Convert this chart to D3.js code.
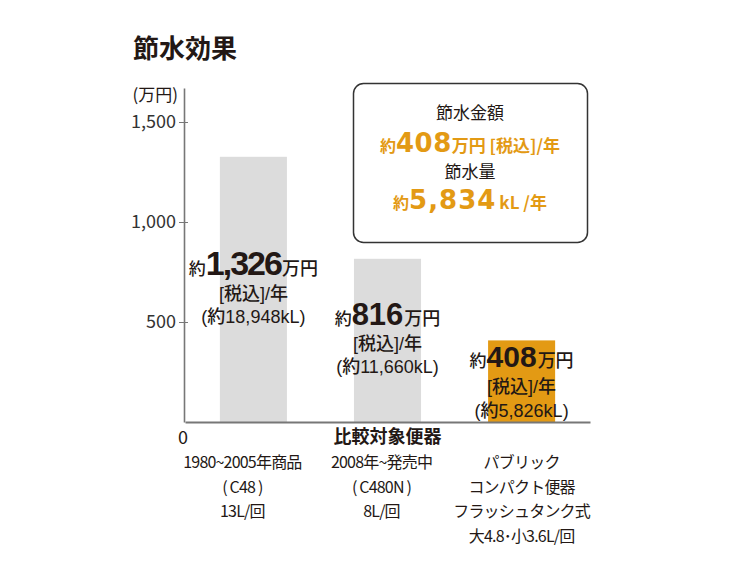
<!DOCTYPE html>
<html>
<head>
<meta charset="utf-8">
<script src="https://cdn.jsdelivr.net/npm/d3@7"></script>
<style>
  html, body { margin: 0; padding: 0; background: #fff; }
  svg { display: block; font-family: "Noto Sans CJK JP", "Noto Sans", sans-serif; }
</style>
</head>
<body>
<div id="chart"></div>
<script>
// chart values (万円 / 年)
const categories = ["c48", "c480n", "public"];
const costValues = [1326, 816, 408];
const costLabels = ["1,326", "816", "408"];
const volumeLabels = ["18,948", "11,660", "5,826"];
const categoryLines = [
    ["1980~2005年商品", "( C48 )", "13L/回"],
    ["2008年~発売中", "( C480N )", "8L/回"],
    ["パブリック", "コンパクト便器", "フラッシュタンク式", "大4.8･小3.6L/回"]
];
const yTicks = [500, 1000, 1500];
const savingCost = "408";
const savingVolume = "5,834";

// layout
const width = 750, height = 563;
const ink = "#231815";
const orange = "#e39a14";
const barColors = ["#dcdcdc", "#dcdcdc", orange];
const labelBaseline = [275, 325, 367];
const labelGap = [[25, 48], [25, 48], [26, 50]];
const digitSize = [34, 31, 30];
const digitSpacing = [-2, 0, 0];
const categoryShift = [-11, -6, 0];
const digitFont = "\"Liberation Sans\", sans-serif";
const lineFont = "\"Liberation Sans\", \"Noto Sans CJK JP\", sans-serif";

const svg = d3.select("#chart").append("svg")
    .attr("width", width)
    .attr("height", height);

const x = d3.scaleBand()
    .domain(categories)
    .range([185, 590])
    .paddingInner(0.5)
    .paddingOuter(0.26);

const y = d3.scaleLinear()
    .domain([0, 1670])
    .range([422, 88]);

// title
svg.append("text")
    .attr("x", 133)
    .attr("y", 58)
    .attr("font-size", 26)
    .attr("font-weight", 700)
    .attr("fill", ink)
    .text("節水効果");

// unit
svg.append("text")
    .attr("x", 178)
    .attr("y", 101)
    .attr("text-anchor", "end")
    .attr("font-size", 17)
    .attr("fill", ink)
    .text("(万円)");

// bars
svg.append("g")
    .selectAll("rect")
    .data(costValues)
    .join("rect")
    .attr("x", (d, i) => x(categories[i]))
    .attr("y", d => y(d))
    .attr("width", x.bandwidth())
    .attr("height", d => y(0) - y(d))
    .attr("fill", (d, i) => barColors[i]);

// y axis
const yAxis = svg.append("g")
    .attr("transform", `translate(${x.range()[0] - 1},0)`)
    .call(d3.axisLeft(y).tickValues(yTicks).tickSize(5).tickPadding(3).tickSizeOuter(0)
        .tickFormat(d3.format(",")));
yAxis.select(".domain").attr("stroke", "#777").attr("stroke-width", 1.6);
yAxis.selectAll(".tick line").attr("x1", 4).attr("x2", -5).attr("stroke", "#777");
yAxis.selectAll(".tick text")
    .attr("font-size", 18)
    .attr("font-family", "\"Noto Sans CJK JP\", sans-serif")
    .attr("fill", "#333");

// x axis baseline
const xAxis = svg.append("g")
    .attr("transform", `translate(0,${y(0)})`)
    .call(d3.axisBottom(x).tickSize(0).tickFormat(""));
xAxis.select(".domain").attr("stroke", "#777").attr("stroke-width", 2);

svg.append("text")
    .attr("x", x.range()[0] - 2)
    .attr("y", y(0) + 22)
    .attr("text-anchor", "middle")
    .attr("font-size", 18)
    .attr("fill", ink)
    .text("0");

// axis title
svg.append("text")
    .attr("x", x(categories[1]) + x.bandwidth() / 2)
    .attr("y", y(0) + 21)
    .attr("text-anchor", "middle")
    .attr("font-size", 18)
    .attr("font-weight", 700)
    .attr("fill", ink)
    .text("比較対象便器");

// category labels
categoryLines.forEach((lines, i) => {
    svg.append("g")
        .selectAll("text")
        .data(lines)
        .join("text")
        .attr("x", x(categories[i]) + x.bandwidth() / 2 + categoryShift[i])
        .attr("y", (d, j) => 468 + j * 24.5)
        .attr("text-anchor", "middle")
        .attr("font-size", 16)
        .attr("letter-spacing", -0.8)
        .attr("fill", ink)
        .text(d => d);
});

// bar value labels
costValues.forEach((v, i) => {
    const cx = x(categories[i]) + x.bandwidth() / 2;
    const base = labelBaseline[i];
    const g = svg.append("g").attr("fill", ink).attr("text-anchor", "middle");

    const t = g.append("text").attr("x", cx).attr("y", base).attr("font-weight", 500)
        .attr("font-family", lineFont);
    t.append("tspan").attr("font-size", 17).text("約");
    t.append("tspan").attr("font-size", digitSize[i]).attr("font-weight", 700)
        .attr("letter-spacing", digitSpacing[i])
        .attr("font-family", digitFont).text(costLabels[i]);
    t.append("tspan").attr("font-size", 18).attr("dx", 1).text("万円");

    g.append("text").attr("x", cx).attr("y", base + labelGap[i][0])
        .attr("font-family", lineFont)
        .attr("font-size", 18).attr("font-weight", 500).text("[税込]/年");
    g.append("text").attr("x", cx).attr("y", base + labelGap[i][1])
        .attr("font-family", lineFont)
        .attr("font-size", 18).attr("font-weight", 500)
        .text(`(約${volumeLabels[i]}kL)`);
});

// savings box
const box = svg.append("g");
box.append("rect")
    .attr("x", 353.5)
    .attr("y", 83.5)
    .attr("width", 234)
    .attr("height", 159)
    .attr("rx", 10)
    .attr("fill", "#fff")
    .attr("stroke", "#333")
    .attr("stroke-width", 1.5);

const bx = 470;
box.append("text").attr("x", bx).attr("y", 119).attr("text-anchor", "middle")
    .attr("font-size", 17).attr("fill", ink).text("節水金額");

const c1 = box.append("text").attr("x", bx).attr("y", 152).attr("text-anchor", "middle")
    .attr("fill", orange).attr("font-weight", 700);
c1.append("tspan").attr("font-size", 16).text("約");
c1.append("tspan").attr("font-size", 26).attr("font-family", "\"DejaVu Sans\", sans-serif")
    .attr("letter-spacing", 0.5).text(savingCost);
c1.append("tspan").attr("font-size", 17).text("万円 [税込]/年");

box.append("text").attr("x", bx).attr("y", 178).attr("text-anchor", "middle")
    .attr("font-size", 17).attr("fill", ink).text("節水量");

const c2 = box.append("text").attr("x", bx).attr("y", 209).attr("text-anchor", "middle")
    .attr("fill", orange).attr("font-weight", 700);
c2.append("tspan").attr("font-size", 16).text("約");
c2.append("tspan").attr("font-size", 26).attr("font-family", "\"DejaVu Sans\", sans-serif")
    .attr("letter-spacing", 1).text(savingVolume);
c2.append("tspan").attr("font-size", 17).attr("dx", 3).text("kL /年");
</script>
</body>
</html>
